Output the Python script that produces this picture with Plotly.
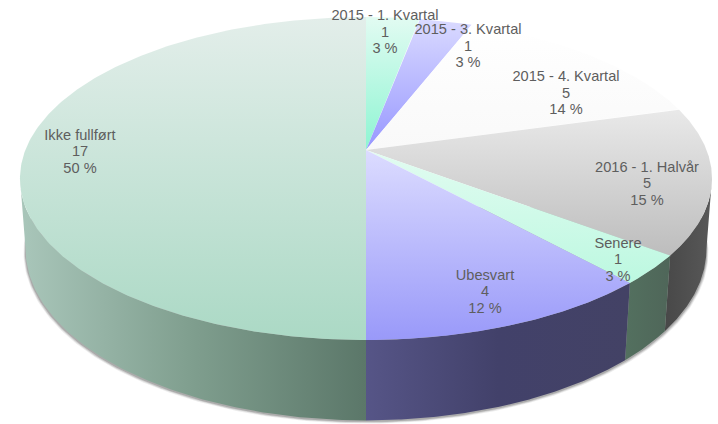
import numpy as np
import plotly.graph_objects as go

# Data, clockwise from 12 o'clock
categories = ["2015 - 1. Kvartal", "2015 - 3. Kvartal", "2015 - 4. Kvartal",
              "2016 - 1. Halvår", "Senere", "Ubesvart", "Ikke fullført"]
counts = [1, 1, 5, 5, 1, 4, 17]
percent_labels = ["3 %", "3 %", "14 %", "15 %", "3 %", "12 %", "50 %"]

# Styles (top colour, bottom colour)
top_colors = [("#E2FBF2", "#8DF5D2"), ("#DADAFF", "#9797FF"), ("#FFFFFF", "#F9F9F9"),
              ("#E9E9E9", "#BDBDBD"), ("#E2FCF1", "#BCF8E0"), ("#DCDCFF", "#9999F9"),
              ("#E3EEEA", "#ABD9C5")]
# Wall colours (left, middle, right)
side_colors = [None, None, None,
               ("#484848", "#505050", "#585858"), ("#53705F", "#516B5C", "#4F6659"),
               ("#565587", "#42416A", "#434265"), ("#A9C6BA", "#7F9E8E", "#5B7769")]
label_xy = [(385, 33), (468, 47), (566, 94), (647, 184.5), (618, 260.5), (485, 292.5), (80, 152.5)]
LINE_STEP = 16.6

# Projection of the pie (perspective)
CX, CY = 366, 150
A, B, K = 156.5, 340.6, 0.1765
G, N = 0.016, 70.5
WALL_FROM, WALL_TO = np.radians(100), np.radians(260)


def top_rim(t):
    u, v = np.sin(t), np.cos(t)
    d = 1 + K * v
    return CX + B * u / d, CY - A * v / d


def base_rim(t):
    u, v = np.sin(t), np.cos(t)
    d = 1 + K * v + G
    return CX + B * u / d, CY + (-A * v + N) / d


edges = np.cumsum([0] + counts) / sum(counts) * 2 * np.pi
fig = go.Figure()

# Soft shadow under the base; its ends stay hidden beneath the pie
tt = np.linspace(np.radians(85), np.radians(275), 240)
bx, by = base_rim(tt)
for scale, dy, alpha in [(1.006, 3.2, 0.12), (1.004, 2.4, 0.2), (1.002, 1.6, 0.3)]:
    fig.add_trace(go.Scatter(x=CX + (bx - CX) * scale, y=by + dy, mode="lines", line=dict(width=0),
                             fill="toself", fillcolor=f"rgba(90,90,90,{alpha})", hoverinfo="skip"))

# Side walls (only the part facing the viewer)
for i in range(len(counts)):
    lo, hi = max(edges[i], WALL_FROM), min(edges[i + 1], WALL_TO)
    if hi <= lo:
        continue
    t = np.linspace(lo, hi, 120)
    x1, y1 = top_rim(t)
    x2, y2 = base_rim(t[::-1])
    c = side_colors[i]
    fig.add_trace(go.Scatter(
        x=np.r_[x1, x2, x1[0]], y=np.r_[y1, y2, y1[0]], mode="lines", line=dict(width=0),
        fill="toself", hoverinfo="skip",
        fillgradient=dict(type="horizontal", colorscale=[[0, c[0]], [0.5, c[1]], [1, c[2]]])))

# Top faces (gradient runs bottom to top on the reversed pixel axis)
for i in range(len(counts)):
    t = np.linspace(edges[i], edges[i + 1], 240)
    x, y = top_rim(t)
    fig.add_trace(go.Scatter(
        x=np.r_[CX, x, CX], y=np.r_[CY, y, CY], mode="lines", line=dict(width=0),
        fill="toself", hoverinfo="skip",
        fillgradient=dict(type="vertical",
                          colorscale=[[0, top_colors[i][1]], [1, top_colors[i][0]]])))

# Labels: one text item per line, for the reference's tighter line spacing
tx, ty, tt_text = [], [], []
for (lx, ly), c, n, p in zip(label_xy, categories, counts, percent_labels):
    for off, s in zip((-LINE_STEP, 0, LINE_STEP), (c, str(n), p)):
        tx.append(lx)
        ty.append(ly + off)
        tt_text.append(s)
fig.add_trace(go.Scatter(
    x=tx, y=ty, mode="text", text=tt_text, textposition="middle center", hoverinfo="skip",
    textfont=dict(family="Liberation Sans, Arial, sans-serif", size=14.6, color="#5E5E5E")))

fig.update_layout(
    width=718, height=424, margin=dict(l=0, r=0, t=0, b=0), showlegend=False,
    paper_bgcolor="white", plot_bgcolor="white",
    xaxis=dict(range=[0, 718], visible=False, fixedrange=True),
    yaxis=dict(range=[424, 0], visible=False, fixedrange=True))
fig.write_html("out.html", config={"displayModeBar": False},
               post_script="document.body.style.margin='0';document.documentElement.style.overflow='hidden';")
